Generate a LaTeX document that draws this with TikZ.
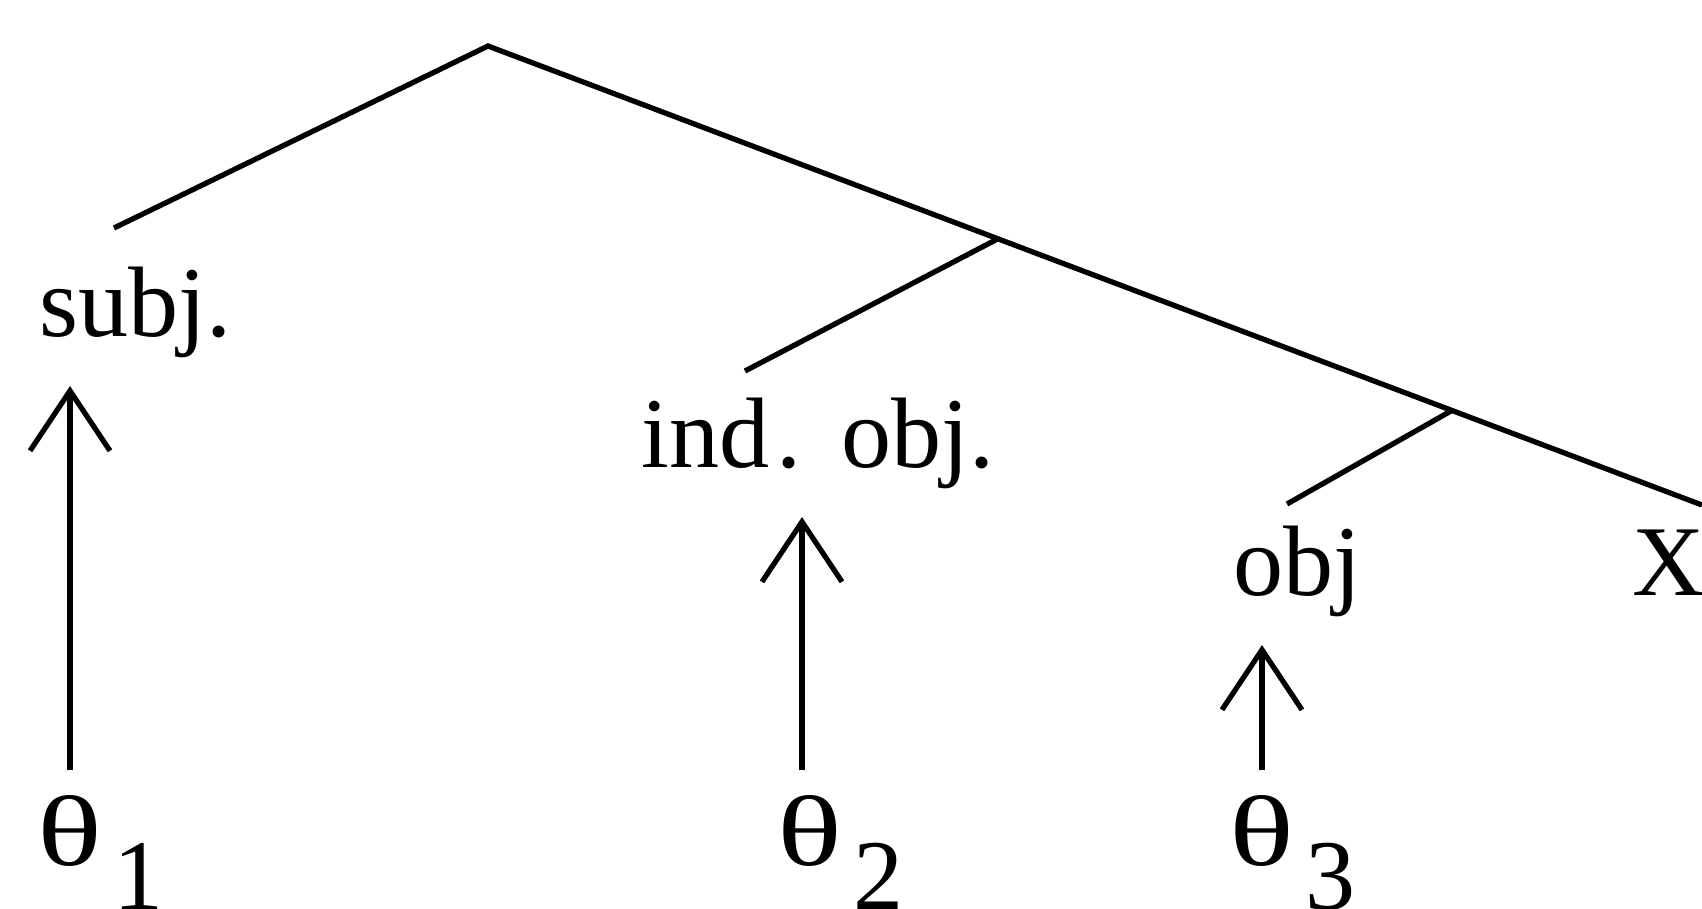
\documentclass[tikz,border=0pt]{standalone}
\usepackage{fontspec}
\setmainfont{Liberation Serif}
\usetikzlibrary{calc,arrows.meta}

\newcommand{\wtheta}{\scalebox{1.35}[1]{θ}}

\tikzset{
  lbl/.style={font=\fontsize{28.5}{34}\selectfont, inner sep=0pt, anchor=base},
  sub/.style={lbl, anchor=base west},
  branch/.style={line width=1.5pt},
  arr/.style={line width=1.5pt, -{Straight Barb[length=0.6cm,width=0.8cm]},
    shorten <=0.24cm, shorten >=0.28cm}
}

\begin{document}
\begin{tikzpicture}
  \clip (0,0) rectangle (17.02,9.08);

  % Tree
  \coordinate (root) at (4.88,8.62);
  \coordinate (rend) at (17.02,4.03);
  \coordinate (n1) at ($(root)!0.42!(rend)$);
  \coordinate (n2) at ($(root)!0.794!(rend)$);
  \coordinate (l0) at (1.14,6.80);
  \coordinate (l1) at (7.45,5.37);
  \coordinate (l2) at (12.87,4.04);

  \draw[branch] (l0) -- (root) -- (rend);
  \draw[branch] (n1) -- (l1);
  \draw[branch] (n2) -- (l2);

  % Grammatical functions
  \node[lbl] (subj) at (1.355,5.72) {subj.};
  \node[lbl] (iobj) at (8.18,4.41) {ind\kern0.07cm. \kern0.07cm obj.};
  \node[lbl] (obj) at (12.97,3.13) {obj};
  \node[lbl] (x) at (16.69,3.13) {X};

  % Theta roles
  \node[lbl] (t1) at (0.70,0.43) {\wtheta};
  \node[lbl] (t2) at (8.10,0.43) {\wtheta};
  \node[lbl] (t3) at (12.62,0.43) {\wtheta};
  \node[sub] (s1) at ([xshift=0.1cm,yshift=-0.44cm]t1.base east) {1};
  \node[sub] (s2) at ([xshift=0.1cm,yshift=-0.44cm]t2.base east) {2};
  \node[sub] (s3) at ([xshift=0.1cm,yshift=-0.44cm]t3.base east) {3};

  \draw[arr] ([xshift=-0.08cm]t2.north) -- ([xshift=-0.08cm]t2.north |- iobj.south);
  \draw[arr] (t1.north) -- (t1.north |- subj.south);
  \draw[arr] (t3.north) -- (t3.north |- obj.south);
\end{tikzpicture}
\end{document}
